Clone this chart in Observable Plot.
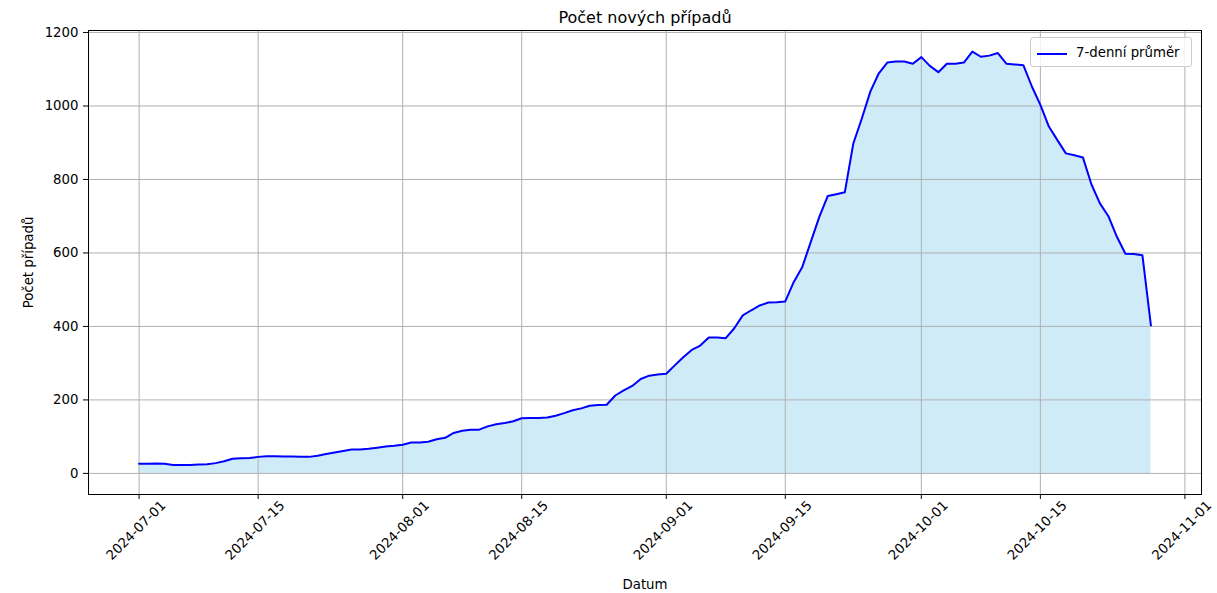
<!DOCTYPE html>
<html>
<head>
<meta charset="utf-8">
<script src="https://cdn.jsdelivr.net/npm/d3@7"></script>
<script src="https://cdn.jsdelivr.net/npm/@observablehq/plot@0.6"></script>
<style>
  html, body { margin: 0; padding: 0; background: #fff; }
  #wrap { position: relative; width: 1217px; height: 593px; font-family: "DejaVu Sans", sans-serif; }
  #legend { position: absolute; left: 1030px; top: 37px; width: 162px; height: 30px; box-sizing: border-box;
            border: 1px solid #cccccc; border-radius: 3px; background: rgba(255,255,255,0.8); }
  #legend .swatch { position: absolute; left: 6px; top: 15px; width: 30px; height: 2px; background: #0000ff; }
  #legend .lab { position: absolute; left: 45px; top: 6px; font-size: 13.3px; color: #000; line-height: 17px; white-space: nowrap; }
</style>
</head>
<body>
<div id="wrap"></div>
<script>
const startDate = "2024-07-01";
const values = [
  26, 26, 27, 26, 23, 23, 23, 24, 25, 28, 33, 40, 41, 42, 45, 47, 47, 46, 46,
  45, 45, 48, 53, 57, 61, 65, 65, 67, 70, 73, 75, 78, 84, 84, 86, 93, 97, 110, 116,
  119, 119, 128, 134, 137, 142, 150, 151, 151, 152, 157, 164, 172, 177, 184, 186, 187, 212, 226, 238,
  257,
  266, 269, 271, 294, 316, 336, 348, 370, 370, 368, 395, 430, 444, 457, 465, 466, 468, 521, 562,
  630, 698,
  755, 760, 765, 898, 966, 1039, 1089, 1118, 1121, 1121, 1115, 1133, 1109, 1092, 1115, 1115, 1118, 1148,
  1134, 1137, 1144, 1115, 1113, 1111, 1053, 1003, 944, 907, 871, 866, 860, 787, 735, 700, 644, 598, 597, 594, 403
];
const xTickLabels = ["2024-07-01","2024-07-15","2024-08-01","2024-08-15","2024-09-01","2024-09-15","2024-10-01","2024-10-15","2024-11-01"];
const yTicks = [0, 200, 400, 600, 800, 1000, 1200];
const title = "Počet nových případů";
const xLabel = "Datum";
const yLabel = "Počet případů";
const seriesName = "7-denní průměr";

const start = new Date(startDate + "T00:00:00Z");
const data = values.map((v, i) => ({date: d3.utcDay.offset(start, i), value: v}));
const xTicks = xTickLabels.map(s => new Date(s + "T00:00:00Z"));

// matplotlib-like 5% margins
const x0 = data[0].date, x1 = data[data.length - 1].date;
const xm = (x1 - x0) * 0.05;
const ymax = d3.max(values), ymin = 0;
const ym = (ymax - ymin) * 0.05;

const chart = Plot.plot({
  width: 1217,
  height: 593,
  marginLeft: 88,
  marginRight: 16,
  marginTop: 30,
  marginBottom: 99,
  style: {fontFamily: "DejaVu Sans, sans-serif", fontSize: "13.3px", color: "black", background: "white", overflow: "visible"},
  x: {type: "utc", domain: [new Date(+x0 - xm), new Date(+x1 + xm)]},
  y: {domain: [ymin - ym, ymax + ym]},
  marks: [
    Plot.areaY(data, {x: "date", y: "value", fill: "#87ceeb", fillOpacity: 0.4}),
    Plot.gridX(xTicks, {stroke: "#b0b0b0", strokeOpacity: 1, strokeWidth: 1}),
    Plot.gridY(yTicks, {stroke: "#b0b0b0", strokeOpacity: 1, strokeWidth: 1}),
    Plot.lineY(data, {x: "date", y: "value", stroke: "#0000ff", strokeWidth: 2}),
    Plot.frame({stroke: "black", strokeWidth: 1}),
    Plot.axisX(xTicks, {tickSize: 5, tickFormat: () => "", label: xLabel, labelAnchor: "center", labelArrow: "none", labelOffset: 94, fontSize: 13.3}),
    Plot.text(xTicks, {x: d => d, frameAnchor: "bottom", text: (d, i) => xTickLabels[i], rotate: -45, textAnchor: "middle", dy: 39, fontSize: 13.3, fill: "black"}),
    Plot.axisY(yTicks, {tickSize: 5, tickPadding: 5, tickFormat: d => String(d), label: yLabel, labelAnchor: "center", labelArrow: "none", labelOffset: 65, fontSize: 13.3}),
    Plot.text([title], {frameAnchor: "top", dy: -19, text: d => d, fontSize: 16, fill: "black"})
  ]
});

const wrap = document.getElementById("wrap");
wrap.appendChild(chart);
const legend = document.createElement("div");
legend.id = "legend";
legend.innerHTML = '<div class="swatch"></div><div class="lab"></div>';
legend.querySelector(".lab").textContent = seriesName;
wrap.appendChild(legend);
</script>
</body>
</html>
